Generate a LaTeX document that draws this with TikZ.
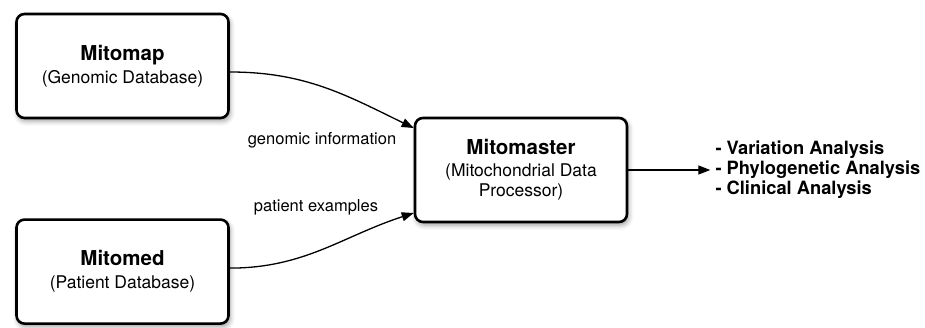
\documentclass[tikz,border=0pt]{standalone}
\usepackage{fontspec}
\setmainfont{TeX Gyre Heros}
\usetikzlibrary{positioning,arrows.meta,shadows.blur}

\newcommand{\boxtitle}[1]{{\fontsize{20.5}{24}\selectfont\bfseries #1}}
\newcommand{\boxsub}{\fontsize{17.5}{20}\selectfont}

\begin{document}
\begin{tikzpicture}[x=1pt, y=1pt, node distance = 99pt,
  box/.style={draw, line width=2.6pt, rounded corners=8pt, fill=white,
    minimum width=212pt, minimum height=104pt, align=center, font=\boxsub,
    blur shadow={shadow xshift=1.5pt, shadow yshift=-3pt, shadow blur radius=5pt, shadow opacity=40}},
  link/.style={line width=1.3pt, -{Triangle[length=12pt,width=9pt]}},
  lbl/.style={font=\fontsize{16.5}{19}\selectfont}]
  \useasboundingbox (0,0) rectangle (925,327);
  \node (Map) [box] at (122.5,261) {\boxtitle{Mitomap}\\[3pt] (Genomic Database)};
  \node (Med) [box, below=of Map] {\boxtitle{Mitomed}\\[3pt] (Patient Database)};
  \node (Master) [box] at (521,157) {\boxtitle{Mitomaster}\\[2pt] (Mitochondrial Data\\ Processor)};
  \node (Out) [right=82pt of Master, align=left, inner sep=5pt,
    font=\fontsize{18.3}{20}\selectfont\bfseries] {- Variation Analysis\\- Phylogenetic Analysis\\- Clinical Analysis};
  \node (GI) [lbl] at (322,187) {genomic information};
  \node (PE) [lbl] at (316,120) {patient examples};
  \draw [link] ([yshift=-6pt]Map.east) to [out=0, in=154] ([yshift=42pt]Master.west);
  \draw [link] ([yshift=3.5pt]Med.east) to [out=0, in=-162] ([yshift=-43pt]Master.west);
  \draw [link] (Master.east) -- (Out.west);
\end{tikzpicture}
\end{document}
